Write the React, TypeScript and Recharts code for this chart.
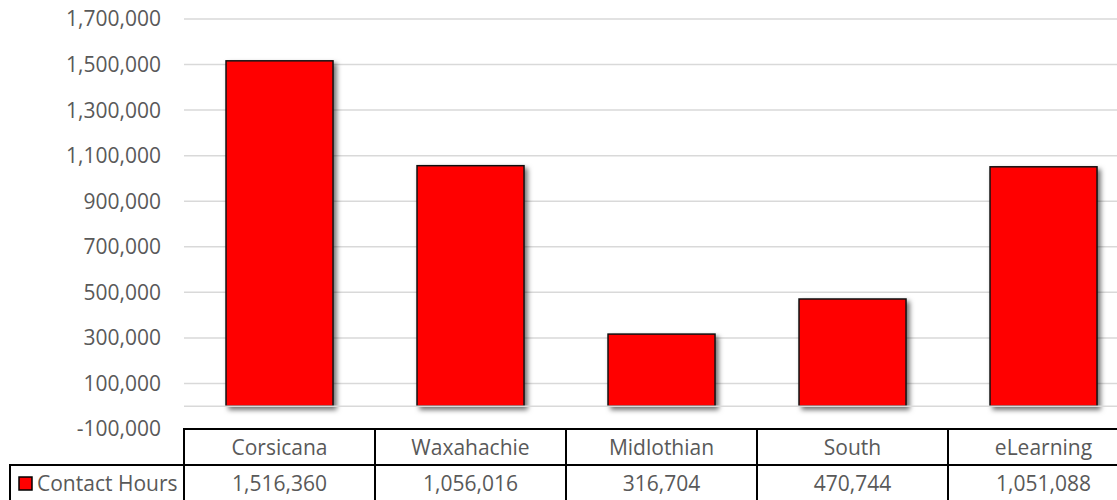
import { Bar, BarChart, CartesianGrid, ReferenceLine, XAxis, YAxis } from "recharts";

const categories = ["Corsicana", "Waxahachie", "Midlothian", "South", "eLearning"];
const contactHours = [1516360, 1056016, 316704, 470744, 1051088];
const seriesName = "Contact Hours";
const yTicks = [-100000, 100000, 300000, 500000, 700000, 900000, 1100000, 1300000, 1500000, 1700000];

const data = categories.map((name, i) => ({ name, hours: contactHours[i] }));

const FONT = "'Open Sans', sans-serif";
const TEXT = "#595959";
const RED = "#FF0000";
const CHART_W = 1139;
const PLOT_LEFT = 184;
const CELL_W = (CHART_W - PLOT_LEFT) / categories.length;
const ROW_H = 36;
const FS = 21;

const fmt = (v: number) => v.toLocaleString("en-US");

function TableTick(props: any) {
  const { x, y, payload, index } = props;
  const left = x - CELL_W / 2;
  const value = contactHours[index];
  return (
    <g>
      <rect x={left} y={y} width={CELL_W} height={ROW_H} fill="none" stroke="#000" strokeWidth={2} />
      <rect x={left} y={y + ROW_H} width={CELL_W} height={ROW_H} fill="none" stroke="#000" strokeWidth={2} />
      <text x={x} y={y + 18} textAnchor="middle" dominantBaseline="central" fill={TEXT} fontSize={FS} fontFamily={FONT}>
        {payload.value}
      </text>
      <text x={x} y={y + ROW_H + 18} textAnchor="middle" dominantBaseline="central" fill={TEXT} fontSize={FS} fontFamily={FONT}>
        {fmt(value)}
      </text>
      {index === 0 && (
        <g>
          <rect x={10} y={y + ROW_H} width={left - 10} height={ROW_H} fill="none" stroke="#000" strokeWidth={2} />
          <rect x={19} y={y + ROW_H + 12} width={13} height={13} fill={RED} stroke="#000" strokeWidth={1.5} />
          <text x={37} y={y + ROW_H + 18} dominantBaseline="central" fill={TEXT} fontSize={FS} fontFamily={FONT}>
            {seriesName}
          </text>
        </g>
      )}
    </g>
  );
}

function ShadowBar(props: any) {
  const { x, y, width, height } = props;
  return (
    <rect
      x={x}
      y={y}
      width={width}
      height={height}
      fill={RED}
      stroke="#111"
      strokeWidth={1.5}
      filter="url(#barShadow)"
    />
  );
}

export default function App() {
  return (
    <div style={{ position: "absolute", left: 0, top: 0, width: 1117, height: 500, overflow: "hidden", background: "#fff" }}>
      <BarChart
        width={CHART_W}
        height={500}
        data={data}
        margin={{ top: 19, right: 0, left: 0, bottom: 0 }}
        barCategoryGap="22%"
      >
        <defs>
          <filter id="barShadow" x="-20%" y="-20%" width="140%" height="140%">
            <feDropShadow dx={3} dy={3} stdDeviation={2.5} floodColor="#000" floodOpacity={0.55} />
          </filter>
        </defs>
        <CartesianGrid stroke="#d9d9d9" strokeWidth={1.5} vertical={false} />
        <XAxis
          dataKey="name"
          height={71}
          axisLine={false}
          tickLine={false}
          tickSize={0}
          tickMargin={0}
          interval={0}
          tick={<TableTick />}
        />
        <YAxis
          width={PLOT_LEFT}
          domain={[-100000, 1700000]}
          ticks={yTicks}
          interval={0}
          axisLine={false}
          tickLine={false}
          tickSize={0}
          tickMargin={23}
          tickFormatter={fmt}
          tick={{ fill: TEXT, fontSize: FS, fontFamily: FONT }}
        />
        <ReferenceLine y={0} stroke="#d9d9d9" strokeWidth={1.5} />
        <Bar dataKey="hours" name={seriesName} shape={<ShadowBar />} isAnimationActive={false} />
      </BarChart>
    </div>
  );
}
